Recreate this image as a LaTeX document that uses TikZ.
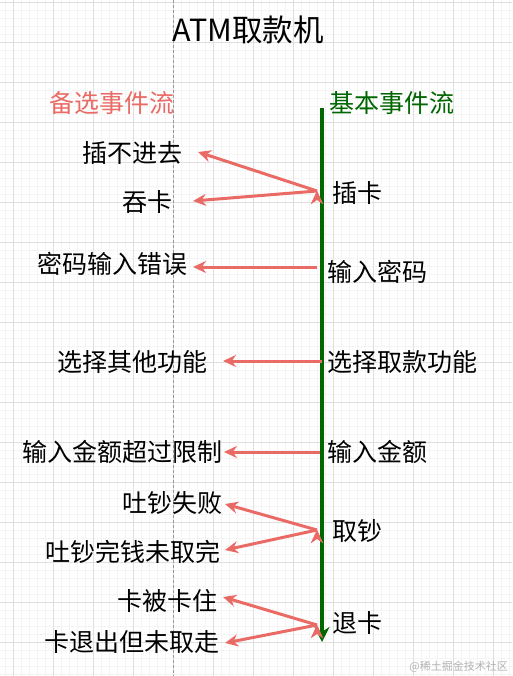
\documentclass[tikz,border=0pt]{standalone}
\usepackage{fontspec}
\setmainfont{Noto Sans CJK SC}
\usetikzlibrary{arrows.meta,positioning}
\definecolor{altred}{HTML}{EA6B66}
\definecolor{flowgreen}{HTML}{006600}
\definecolor{gridminor}{HTML}{F4F4F4}
\definecolor{gridmajor}{HTML}{DFDFDF}

\begin{document}
\begin{tikzpicture}[x=1pt,y=-1pt,inner sep=0pt]
				\tikzstyle{basic event}=[anchor=west,font=\fontsize{25}{29}\selectfont]
			    \tikzstyle{alt event}=[anchor=east,font=\fontsize{25}{29}\selectfont]
			    \tikzstyle{alt arrow}=[draw=altred,line width=3pt,-{Stealth[length=13pt,width=12pt]}]
			    \tikzstyle{main flow}=[draw=flowgreen,line width=3.2pt,-{Stealth[length=15pt,width=15pt]}];

			    % Background grid
			    \useasboundingbox[fill=white] (0,0) rectangle (512,676);
			    \foreach \x in {5,13,...,509} \draw[gridminor,line width=0.6pt] (\x,0) -- (\x,676);
			    \foreach \y in {2,10,...,674} \draw[gridminor,line width=0.6pt] (0,\y) -- (512,\y);
			    \foreach \x in {13,53,...,493} \draw[gridmajor,line width=0.8pt] (\x,0) -- (\x,676);
			    \foreach \y in {2,42,...,642} \draw[gridmajor,line width=0.8pt] (0,\y) -- (512,\y);
			    \draw[black!40,line width=0.6pt,dash pattern=on 3pt off 2pt] (173,0) -- (173,676);

			    % Title and headers
			    \node[font=\fontsize{30.5}{35}\selectfont] (title) at (248,30) {ATM取款机};
			    \node[text=altred,font=\fontsize{25}{29}\selectfont] (alt) at (112,103) {备选事件流};
			    \node[text=flowgreen,font=\fontsize{25}{29}\selectfont] (basic) at (392,103) {基本事件流};

			    % Basic flow
			    \coordinate (top) at (322,108);
			    \coordinate (bottom) at (322,642);
			    \draw[main flow] (top) -- (bottom);

			    \node[basic event] (b1) at (332,193) {插卡};
			    \node[basic event] (b2) at (327,272) {输入密码};
			    \node[basic event] (b3) at (327,362) {选择取款功能};
			    \node[basic event] (b4) at (327,452) {输入金额};
			    \node[basic event] (b5) at (332,531) {取钞};
			    \node[basic event] (b6) at (332,623) {退卡};

			    % Alternative flow
			    \node[alt event] (a1) at (183,153) {插不进去};
			    \node[alt event] (a2) at (173,202) {吞卡};
			    \node[alt event] (a3) at (188,264) {密码输入错误};
			    \node[alt event] (a4) at (208,362) {选择其他功能};
			    \node[alt event] (a5) at (223,452) {输入金额超过限制};
			    \node[alt event] (a6) at (223,503) {吐钞失败};
			    \node[alt event] (a7) at (221,552) {吐钞完钱未取完};
			    \node[alt event] (a8) at (218,601) {卡被卡住};
			    \node[alt event] (a9) at (220,642) {卡退出但未取走};

			    % Tails on the basic flow
			    \coordinate (t1) at (317,191);
			    \coordinate (t2) at (317,267);
			    \coordinate (t3) at (322,361);
			    \coordinate (t4) at (320,452);
			    \coordinate (t5) at (317,530);
			    \coordinate (t6) at (317,625);

			    % Connect the basic events with the alternative ones
			    \path[alt arrow] (t1) edge ([xshift=15pt,yshift=1pt]a1.east);
			    \path[alt arrow] (t1) edge ([xshift=20pt,yshift=1pt]a2.east);
			    \path[alt arrow] (t2) -- ([xshift=5pt,yshift=-3pt]a3.east);
			    \path[alt arrow] (t3) -- ([xshift=15pt,yshift=1pt]a4.east);
			    \path[alt arrow] (t4) -- ([xshift=1pt]a5.east);
			    \path[alt arrow] (t5) edge ([xshift=2pt,yshift=-1pt]a6.east);
			    \path[alt arrow] (t5) edge ([xshift=4pt,yshift=2pt]a7.east);
			    \path[alt arrow] (t6) edge ([xshift=5pt,yshift=4pt]a8.east);
			    \path[alt arrow] (t6) edge ([xshift=5pt,yshift=-1pt]a9.east);

			    % Watermark
			    \node[text=black!30,font=\fontsize{11}{13}\selectfont,anchor=east] (mark) at (508,667) {@稀土掘金技术社区};

			\end{tikzpicture}
\end{document}
